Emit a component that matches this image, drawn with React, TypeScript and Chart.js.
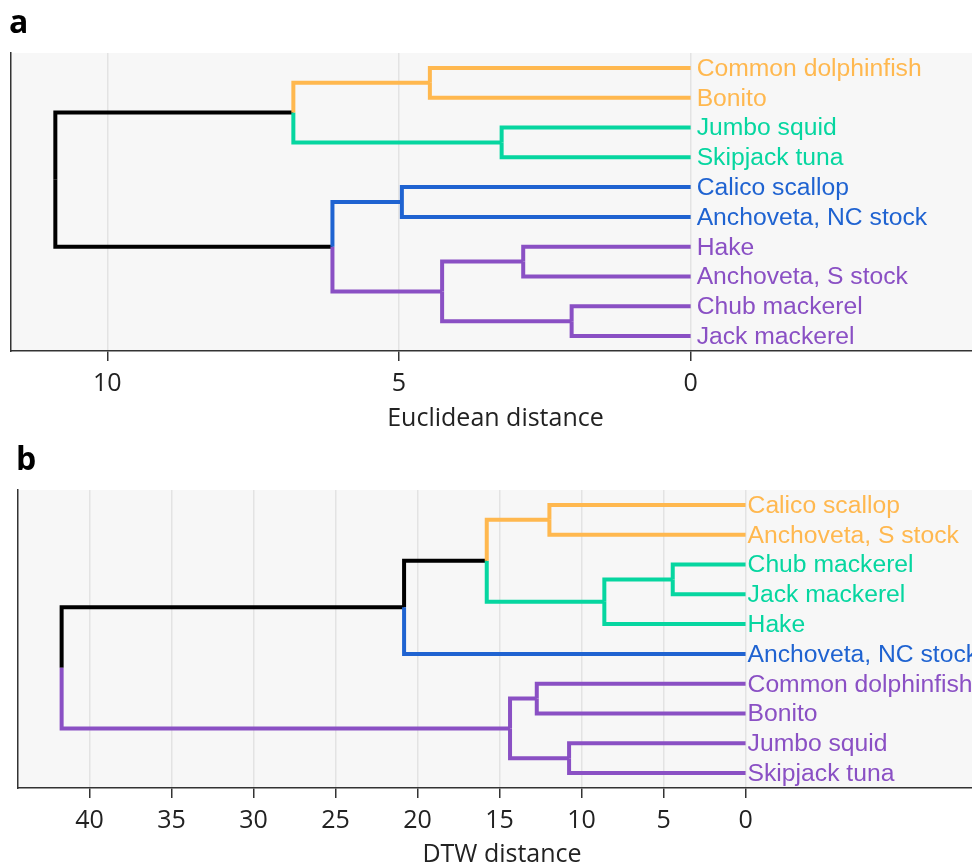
import React, { useEffect, useRef } from 'react';
import { Chart, registerables } from 'chart.js';

Chart.register(...registerables);

const clusterColors = ['#FFB84F', '#06D6A0', '#1F63D1', '#8A50C4'];
const linkColor = '#000000';

// ---------- Panel a (Euclidean distance) ----------
const leavesA = [
  'Common dolphinfish',
  'Bonito',
  'Jumbo squid',
  'Skipjack tuna',
  'Calico scallop',
  'Anchoveta, NC stock',
  'Hake',
  'Anchoveta, S stock',
  'Chub mackerel',
  'Jack mackerel',
];
const leafClusterA = [0, 0, 1, 1, 2, 2, 3, 3, 3, 3];
// merges: node ids 0..9 are leaves, 10.. are merges in order
const mergeLeftA = [0, 2, 4, 6, 8, 13, 10, 12, 16];
const mergeRightA = [1, 3, 5, 7, 9, 14, 11, 15, 17];
const mergeHeightA = [4.47, 3.24, 4.95, 2.87, 2.04, 4.26, 6.81, 6.14, 10.89];
const xTicksA = [0, 5, 10];
const xMinA = -4.96;
const xMaxA = 11.65;

// ---------- Panel b (DTW distance) ----------
const leavesB = [
  'Calico scallop',
  'Anchoveta, S stock',
  'Chub mackerel',
  'Jack mackerel',
  'Hake',
  'Anchoveta, NC stock',
  'Common dolphinfish',
  'Bonito',
  'Jumbo squid',
  'Skipjack tuna',
];
const leafClusterB = [0, 0, 1, 1, 1, 2, 3, 3, 3, 3];
const mergeLeftB = [0, 2, 11, 10, 13, 6, 8, 15, 14];
const mergeRightB = [1, 3, 4, 12, 5, 7, 9, 16, 17];
const mergeHeightB = [11.96, 4.44, 8.61, 15.78, 20.82, 12.73, 10.76, 14.36, 41.7];
const xTicksB = [0, 5, 10, 15, 20, 25, 30, 35, 40];
const xMinB = -14.66;
const xMaxB = 44.36;

const TICK_FONT = '"Open Sans", "Noto Sans", sans-serif';
const LABEL_FONT = '"Liberation Sans", Arial, sans-serif';

function buildDatasets(
  leaves: string[],
  leafCluster: number[],
  L: number[],
  R: number[],
  H: number[]
) {
  const n = leaves.length;
  const y: number[] = leaves.map((_, i) => i);
  const h: number[] = leaves.map(() => 0);
  const cl: number[] = leafCluster.slice();
  const parent: number[] = [];
  L.forEach((l, k) => {
    const r = R[k];
    const id = n + k;
    y[id] = (y[l] + y[r]) / 2;
    h[id] = H[k];
    cl[id] = cl[l] === cl[r] && cl[l] >= 0 ? cl[l] : -1;
    parent[l] = id;
    parent[r] = id;
  });
  const total = n + L.length;
  const colored: any[] = [];
  const black: any[] = [];
  for (let id = 0; id < total; id++) {
    const p = parent[id];
    if (p === undefined) continue;
    const color = cl[id] >= 0 ? clusterColors[cl[id]] : linkColor;
    const ds = {
      data: [
        { x: h[id], y: y[id] },
        { x: h[p], y: y[id] },
        { x: h[p], y: y[p] },
      ],
      borderColor: color,
      backgroundColor: color,
      showLine: true,
      pointRadius: 0,
      borderWidth: 4,
      fill: false,
    };
    if (cl[id] >= 0) colored.push(ds);
    else black.push(ds);
  }
  return [...colored, ...black];
}

function makeChart(
  canvas: HTMLCanvasElement,
  cfg: {
    leaves: string[];
    leafCluster: number[];
    L: number[];
    R: number[];
    H: number[];
    ticks: number[];
    xMin: number;
    xMax: number;
    title: string;
    letter: string;
    letterX: number;
    letterY: number;
    padTop: number;
    padLeft: number;
    xHeight: number;
    titlePadBottom: number;
    labelGap: number;
  }
) {
  const bgPlugin = {
    id: 'bgfill',
    beforeDraw(chart: any) {
      const { ctx, chartArea } = chart;
      ctx.save();
      ctx.fillStyle = '#f7f7f7';
      ctx.fillRect(
        chartArea.left,
        chartArea.top,
        chartArea.right - chartArea.left,
        chartArea.bottom - chartArea.top
      );
      ctx.restore();
    },
  };
  const labelPlugin = {
    id: 'leafLabels',
    afterDraw(chart: any) {
      const { ctx } = chart;
      const xs = chart.scales.x;
      const ys = chart.scales.y;
      ctx.save();
      ctx.font = `24.7px ${LABEL_FONT}`;
      ctx.textAlign = 'left';
      ctx.textBaseline = 'middle';
      const x0 = xs.getPixelForValue(0);
      cfg.leaves.forEach((name, i) => {
        ctx.fillStyle = clusterColors[cfg.leafCluster[i]];
        ctx.fillText(name, x0 + cfg.labelGap, ys.getPixelForValue(i) + 1);
      });
      ctx.font = `bold 32px ${TICK_FONT}`;
      ctx.fillStyle = '#000';
      ctx.textBaseline = 'alphabetic';
      ctx.fillText(cfg.letter, cfg.letterX, cfg.letterY);
      ctx.restore();
    },
  };

  return new Chart(canvas, {
    type: 'scatter',
    data: {
      datasets: buildDatasets(cfg.leaves, cfg.leafCluster, cfg.L, cfg.R, cfg.H),
    },
    options: {
      responsive: false,
      animation: false,
      layout: { padding: { top: cfg.padTop, left: cfg.padLeft, right: 0, bottom: 0 } },
      plugins: {
        legend: { display: false },
        tooltip: { enabled: false },
      },
      elements: {
        point: { radius: 0 },
        line: { tension: 0, borderJoinStyle: 'miter', borderCapStyle: 'butt' },
      },
      scales: {
        x: {
          type: 'linear',
          reverse: true,
          min: cfg.xMin,
          max: cfg.xMax,
          afterBuildTicks: (s: any) => {
            s.ticks = cfg.ticks.map((v) => ({ value: v }));
          },
          afterFit: (s: any) => {
            s.height = cfg.xHeight;
          },
          grid: {
            color: '#e3e3e3',
            lineWidth: 1.5,
            tickColor: '#333',
            tickLength: 10,
            tickWidth: 1.5,
          },
          border: { color: '#333', width: 1.5 },
          ticks: {
            font: { size: 25, family: TICK_FONT },
            color: '#222',
            padding: 8,
            maxRotation: 0,
            autoSkip: false,
            callback: (v: any) => String(v),
          },
          title: {
            display: true,
            text: cfg.title,
            font: { size: 25, family: TICK_FONT },
            color: '#222',
            padding: { top: 0, bottom: cfg.titlePadBottom },
          },
        },
        y: {
          type: 'linear',
          reverse: true,
          min: -0.5,
          max: 9.5,
          afterFit: (s: any) => {
            s.width = 0;
          },
          ticks: { display: false },
          grid: { display: false, drawTicks: false },
          border: { display: true, color: '#333', width: 1.5 },
        },
      },
    } as any,
    plugins: [bgPlugin, labelPlugin],
  });
}

export default function App() {
  const refA = useRef<HTMLCanvasElement>(null);
  const refB = useRef<HTMLCanvasElement>(null);

  useEffect(() => {
    const a = makeChart(refA.current!, {
      leaves: leavesA,
      leafCluster: leafClusterA,
      L: mergeLeftA,
      R: mergeRightA,
      H: mergeHeightA,
      ticks: xTicksA,
      xMin: xMinA,
      xMax: xMaxA,
      title: 'Euclidean distance',
      letter: 'a',
      letterX: 9,
      letterY: 33,
      padTop: 53,
      padLeft: 11,
      xHeight: 83,
      titlePadBottom: 0,
      labelGap: 6,
    });
    const b = makeChart(refB.current!, {
      leaves: leavesB,
      leafCluster: leafClusterB,
      L: mergeLeftB,
      R: mergeRightB,
      H: mergeHeightB,
      ticks: xTicksB,
      xMin: xMinB,
      xMax: xMaxB,
      title: 'DTW distance',
      letter: 'b',
      letterX: 16,
      letterY: 36,
      padTop: 56,
      padLeft: 18,
      xHeight: 80,
      titlePadBottom: -2,
      labelGap: 2,
    });
    return () => {
      a.destroy();
      b.destroy();
    };
  }, []);

  return (
    <div
      style={{
        position: 'absolute',
        left: 0,
        top: 0,
        width: 972,
        height: 868,
        overflow: 'hidden',
        background: '#fff',
      }}
    >
      <canvas ref={refA} width={980} height={434} style={{ position: 'absolute', left: 0, top: 0 }} />
      <canvas ref={refB} width={986} height={434} style={{ position: 'absolute', left: 0, top: 434 }} />
    </div>
  );
}
